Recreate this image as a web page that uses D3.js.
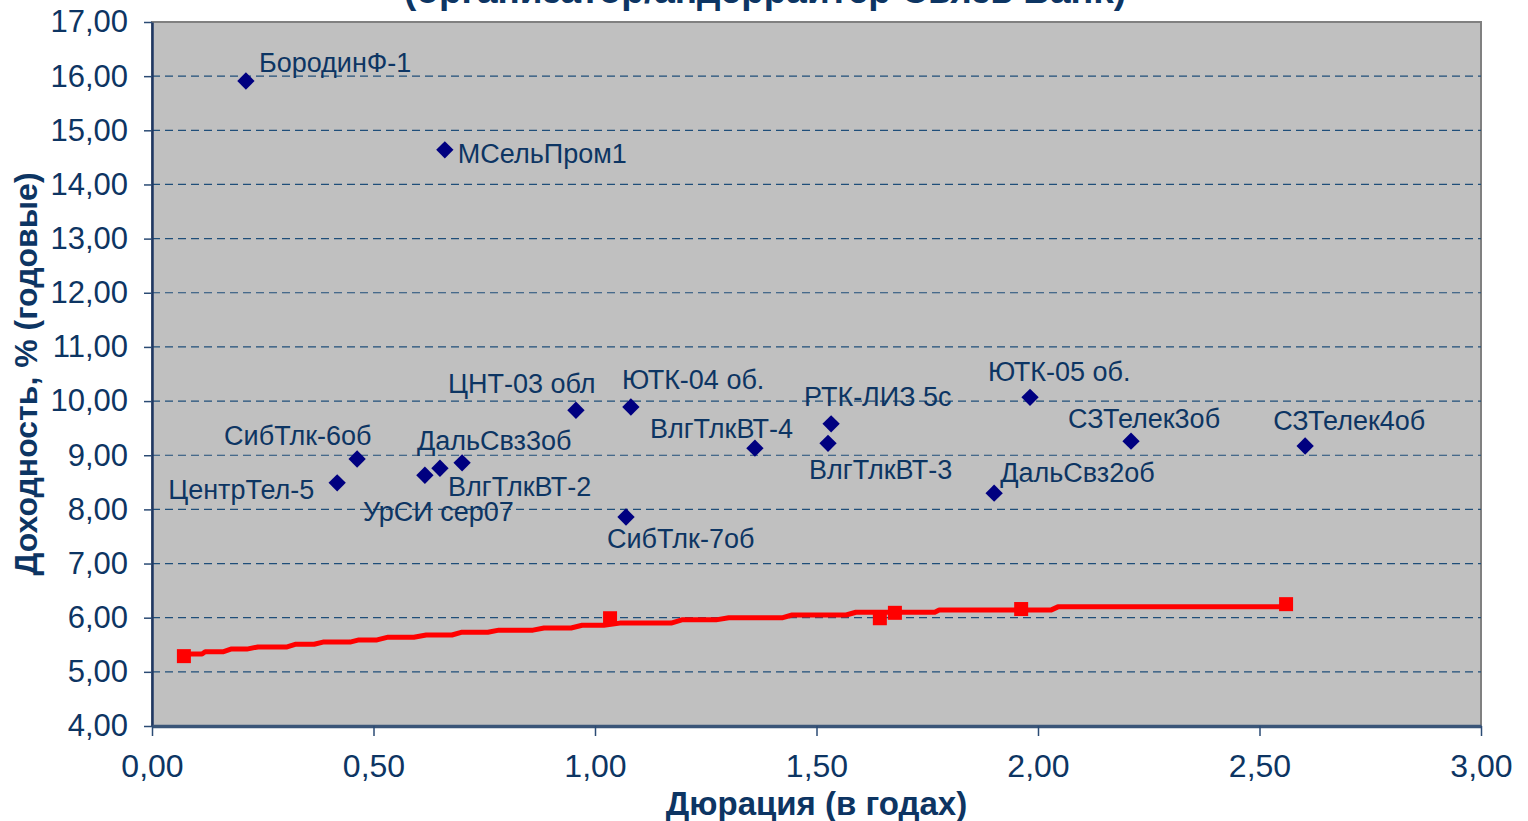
<!DOCTYPE html>
<html>
<head>
<meta charset="utf-8">
<script src="https://cdn.jsdelivr.net/npm/d3@7/dist/d3.min.js"></script>
<style>
  body { margin: 0; background: #fff; }
  text { font-family: Arial, "Liberation Sans", sans-serif; }
</style>
</head>
<body>
<script>
// bonds: name, duration (years), yield (%)
const bondNames = ['БородинФ-1','МСельПром1','ЦентрТел-5','СибТлк-6об','УрСИ сер07','ДальСвз3об','ВлгТлкВТ-2',
  'ЦНТ-03 обл','ЮТК-04 об.','СибТлк-7об','ВлгТлкВТ-4','РТК-ЛИЗ 5с','ВлгТлкВТ-3','ЮТК-05 об.','ДальСвз2об','СЗТелек3об','СЗТелек4об'];
const bondDur = [0.212,0.661,0.418,0.463,0.616,0.650,0.700,0.957,1.081,1.070,1.361,1.533,1.526,1.982,1.901,2.210,2.603];
const bondYld = [15.91,14.64,8.49,8.93,8.63,8.76,8.86,9.83,9.89,7.86,9.13,9.58,9.22,10.07,8.30,9.26,9.17];

// benchmark points (red squares)
const ofzDur = [0.072,1.034,1.643,1.677,1.962,2.560];
const ofzYld = [5.29,5.99,5.99,6.09,6.16,6.25];

// benchmark curve (red line)
const curveDur = [0.072,0.088,0.113,0.120,0.160,0.178,0.214,0.239,0.305,0.325,0.366,0.386,0.447,0.467,0.508,
  0.533,0.591,0.619,0.677,0.698,0.758,0.783,0.860,0.885,0.946,0.971,1.020,1.056,1.172,1.196,1.273,1.302,1.424,
  1.445,1.567,1.589,1.767,1.777,2.029,2.045,2.560];
const curveYld = [5.29,5.33,5.33,5.37,5.37,5.42,5.42,5.46,5.46,5.51,5.51,5.55,5.55,5.59,5.59,
  5.64,5.64,5.68,5.68,5.73,5.73,5.77,5.77,5.81,5.81,5.86,5.86,5.90,5.90,5.96,5.96,6.00,6.00,
  6.05,6.05,6.10,6.10,6.14,6.14,6.20,6.20];

const xTicks = [0,0.5,1,1.5,2,2.5,3];
const yTicks = [4,5,6,7,8,9,10,11,12,13,14,15,16,17];

// label placement relative to marker: [dx to left edge, dy to text centre]
const labelPos = [[13,-19],[13,3],[-169,6],[-133,-24],[-62,36],[-23,-28],[-14,23],[-128,-27],[-9,-28],[-19,21],
  [-105,-20],[-27,-28],[-19,26],[-42,-26],[6,-21],[-63,-23],[-32,-26]];

const W = 1528, H = 821;
const L = 152, R = 1481, T = 22, B = 726;
const navy = '#0d3563';

const svg = d3.select('body').append('svg').attr('width', W).attr('height', H);

const x = d3.scaleLinear().domain([0, 3]).range([L, R]);
const y = d3.scaleLinear().domain([4, 17]).range([B, T]);
const fmt = d => d3.format('.2f')(d).replace('.', ',');

// title (cut off by top edge, as in the original)
svg.append('text').attr('x', 765).attr('y', 3).attr('text-anchor', 'middle')
  .style('font-size', '37px').style('font-weight', 'bold').style('fill', navy)
  .text('(организатор/андеррайтер Связь Bank)');

// plot area
svg.append('rect').attr('x', L).attr('y', T).attr('width', R - L).attr('height', B - T)
  .attr('fill', '#c0c0c0').attr('stroke', '#808080').attr('stroke-width', 2);

// grid
svg.append('g').selectAll('line').data(yTicks.filter(d => d > 4 && d < 17)).enter().append('line')
  .attr('x1', L).attr('x2', R).attr('y1', d => y(d)).attr('y2', d => y(d))
  .attr('stroke', '#1f4e79').attr('stroke-width', 1.2).attr('stroke-dasharray', '8,5');

// axes
const yAxis = d3.axisLeft(y).tickValues(yTicks).tickFormat(fmt).tickSizeOuter(0).tickSizeInner(8).tickPadding(16);
const xAxis = d3.axisBottom(x).tickValues(xTicks).tickFormat(fmt).tickSizeOuter(0).tickSizeInner(10).tickPadding(18);

const gy = svg.append('g').attr('transform', `translate(${L},0)`).call(yAxis);
const gx = svg.append('g').attr('transform', `translate(0,${B})`).call(xAxis);
gy.selectAll('text').style('font-size', '31px');
gx.selectAll('text').style('font-size', '32px');
[gy, gx].forEach(g => {
  g.selectAll('text').style('fill', navy).style('font-family', 'Arial, "Liberation Sans", sans-serif');
  g.selectAll('line').attr('stroke', '#2b4b74').attr('stroke-width', 1.5);
});
gy.select('.domain').attr('stroke', '#1f3864').attr('stroke-width', 2.5);
gx.select('.domain').attr('stroke', '#3a5578').attr('stroke-width', 3.5);

// axis titles
svg.append('text').attr('x', (L + R) / 2).attr('y', 815).attr('text-anchor', 'middle')
  .style('font-size', '33px').style('font-weight', 'bold').style('fill', navy)
  .text('Дюрация (в годах)');
svg.append('text').attr('transform', `translate(37,${(T + B) / 2}) rotate(-90)`).attr('text-anchor', 'middle')
  .style('font-size', '32px').style('font-weight', 'bold').style('fill', navy)
  .text('Доходность, % (годовые)');

// red curve
const curve = curveDur.map((d, i) => [d, curveYld[i]]);
svg.append('path').datum(curve)
  .attr('d', d3.line().x(d => x(d[0])).y(d => y(d[1])))
  .attr('fill', 'none').attr('stroke', '#ff0000').attr('stroke-width', 5).attr('stroke-linejoin', 'round');

// red squares
svg.append('g').selectAll('rect').data(ofzDur).enter().append('rect')
  .attr('x', d => x(d) - 7).attr('y', (d, i) => y(ofzYld[i]) - 7)
  .attr('width', 14).attr('height', 14).attr('fill', '#ff0000');

// bond diamonds
const diamond = d3.symbol().type(d3.symbolSquare).size(150);
svg.append('g').selectAll('path').data(bondDur).enter().append('path')
  .attr('d', diamond)
  .attr('transform', (d, i) => `translate(${x(d)},${y(bondYld[i])}) rotate(45)`)
  .attr('fill', '#000080');

// bond labels
svg.append('g').selectAll('text').data(bondNames).enter().append('text')
  .attr('x', (d, i) => x(bondDur[i]) + labelPos[i][0])
  .attr('y', (d, i) => y(bondYld[i]) + labelPos[i][1] + 10)
  .style('font-size', '27px').style('fill', navy)
  .text(d => d);
</script>
</body>
</html>
